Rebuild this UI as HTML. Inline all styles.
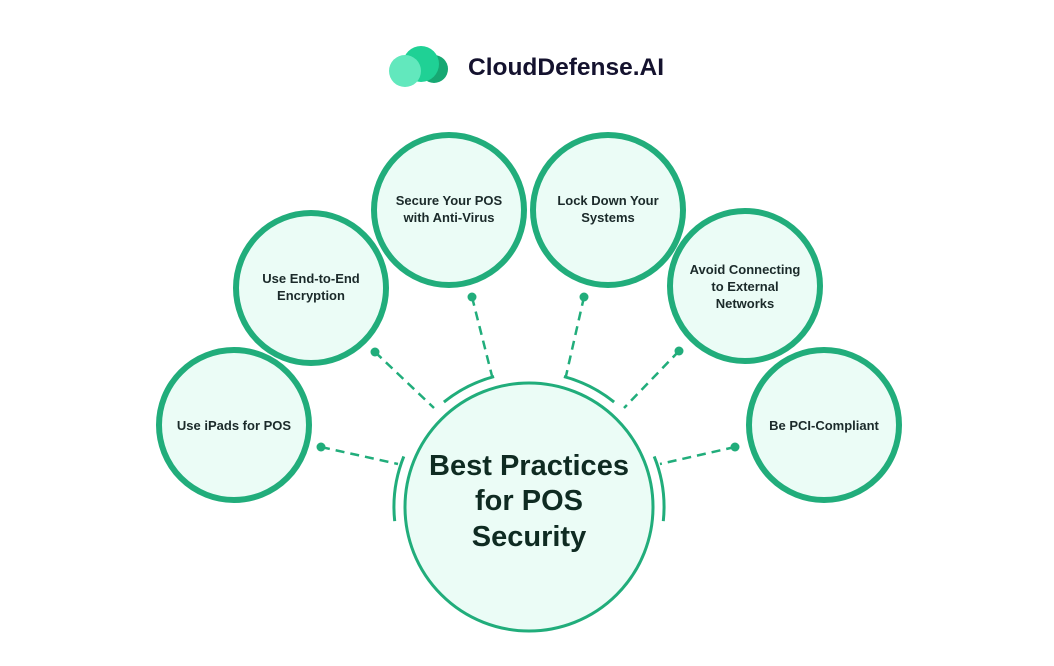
<!DOCTYPE html>
<html><head><meta charset="utf-8"><style>
html,body{margin:0;padding:0;background:#fff;}
svg{display:block;}
text{font-family:"Liberation Sans",sans-serif;font-weight:bold;}
</style></head><body>
<svg width="1054" height="666" viewBox="0 0 1054 666" xmlns="http://www.w3.org/2000/svg">
<rect width="1054" height="666" fill="#fff"/>
<!-- logo -->
<circle cx="434" cy="69" r="14" fill="#17a873"/>
<circle cx="421" cy="64" r="18" fill="#1fd195"/>
<circle cx="405" cy="71" r="16" fill="#62e8bd"/>
<text x="468" y="75" font-size="24.5" fill="#14122e">CloudDefense.AI</text>

<g fill="#ebfcf6" stroke="#21ad7b" stroke-width="6">
<circle cx="234" cy="425" r="75"/>
<circle cx="311" cy="288" r="75"/>
<circle cx="449" cy="210" r="75"/>
<circle cx="608" cy="210" r="75"/>
<circle cx="745" cy="286" r="75"/>
<circle cx="824" cy="425" r="75"/>
</g>
<circle cx="529" cy="507" r="124" fill="#ebfcf6" stroke="#21ad7b" stroke-width="3"/>

<g fill="none" stroke="#21ad7b" stroke-width="3">
<path d="M 394.7 521.1 A 135 135 0 0 1 403.8 456.4"/>
<path d="M 443.9 402.1 A 135 135 0 0 1 494.1 376.6"/>
<path d="M 563.9 376.6 A 135 135 0 0 1 614.1 402.1"/>
<path d="M 654.2 456.4 A 135 135 0 0 1 663.3 521.1"/>
</g>
<g fill="none" stroke="#21ad7b" stroke-width="2.5" stroke-dasharray="9 6">
<line x1="321" y1="447" x2="398" y2="464"/>
<line x1="375" y1="352" x2="434" y2="408"/>
<line x1="472" y1="297" x2="492" y2="376"/>
<line x1="584" y1="297" x2="566" y2="376"/>
<line x1="679" y1="351" x2="624" y2="408"/>
<line x1="735" y1="447" x2="660" y2="464"/>
</g>
<g fill="#21ad7b">
<circle cx="321" cy="447" r="4.5"/><circle cx="375" cy="352" r="4.5"/>
<circle cx="472" cy="297" r="4.5"/><circle cx="584" cy="297" r="4.5"/>
<circle cx="679" cy="351" r="4.5"/><circle cx="735" cy="447" r="4.5"/>
</g>

<g font-size="13" fill="#1b2a2a" text-anchor="middle">
<text x="234" y="430">Use iPads for POS</text>
<text x="311" y="283">Use End-to-End</text>
<text x="311" y="300">Encryption</text>
<text x="449" y="205">Secure Your POS</text>
<text x="449" y="222">with Anti-Virus</text>
<text x="608" y="205">Lock Down Your</text>
<text x="608" y="222">Systems</text>
<text x="745" y="274">Avoid Connecting</text>
<text x="745" y="291">to External</text>
<text x="745" y="308">Networks</text>
<text x="824" y="430">Be PCI-Compliant</text>
</g>
<g font-size="29" fill="#0f2b22" text-anchor="middle">
<text x="529" y="475">Best Practices</text>
<text x="529" y="510">for POS</text>
<text x="529" y="546">Security</text>
</g>
</svg>
</body></html>
